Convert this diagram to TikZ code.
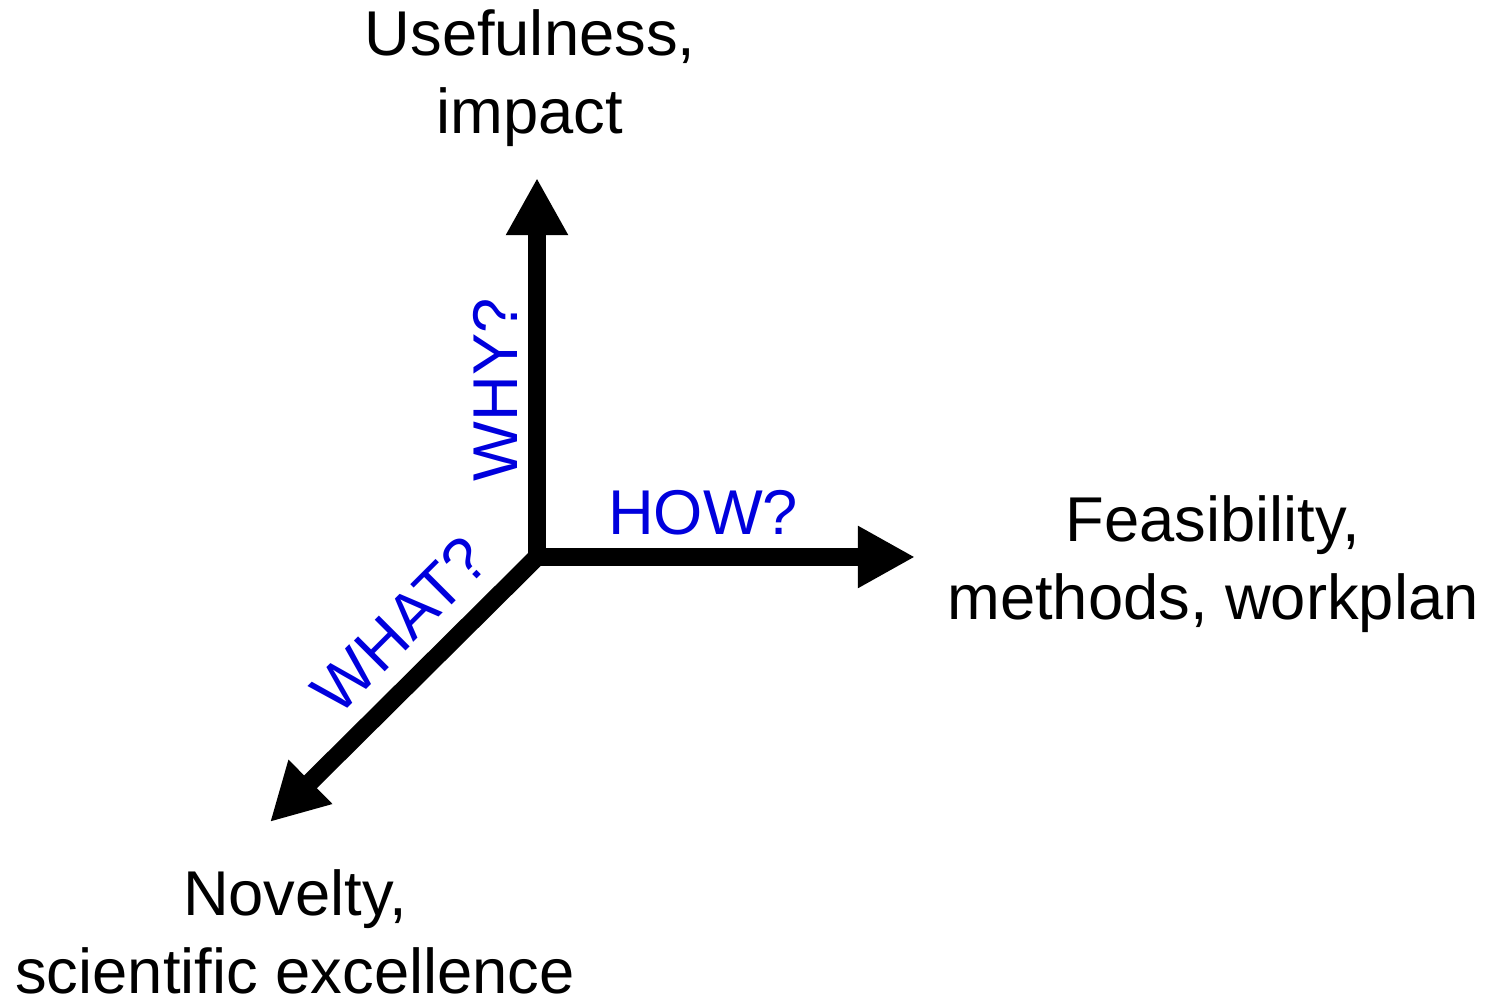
\documentclass[tikz,border=0pt]{standalone}
\usepackage{fontspec}
\setmainfont{Liberation Sans}
\usetikzlibrary{arrows.meta}
\definecolor{askblue}{HTML}{0000DD}
\tikzset{
  axis/.style={line width=0.18cm, -{Triangle[length=0.57cm,width=0.58cm]}},
  aim/.style={align=center, inner sep=0pt, font=\fontsize{18}{22}\selectfont},
  ask/.style={text=askblue, inner sep=0pt, font=\fontsize{18}{22}\selectfont},
}
\begin{document}
\begin{tikzpicture}[x=0.01cm, y=-0.01cm]
\useasboundingbox (0,0) rectangle (1491,1001);
\coordinate (origin) at (537,557);
\coordinate (whytip) at (537,178);
\coordinate (howtip) at (915,557);
\coordinate (whattip) at (270,822);
% axes
\draw[axis] (origin) -- (whytip);
\draw[axis] (origin) -- (howtip);
\draw[axis] (origin) -- (whattip);
% questions
\node[ask, rotate=90] (why) at (495,390) {WHY?};
\node[ask] (how) at (703,513) {HOW?};
\node[ask, rotate=45] (what) at (400,625) {WHAT?};
% aims
\node[aim] (useful) at (530,78) {Usefulness,\\impact};
\node[aim] (feasible) at (1213,564) {Feasibility,\\methods, workplan};
\node[aim] (novel) at (295,932) {Novelty,\\scientific excellence};
\end{tikzpicture}
\end{document}
